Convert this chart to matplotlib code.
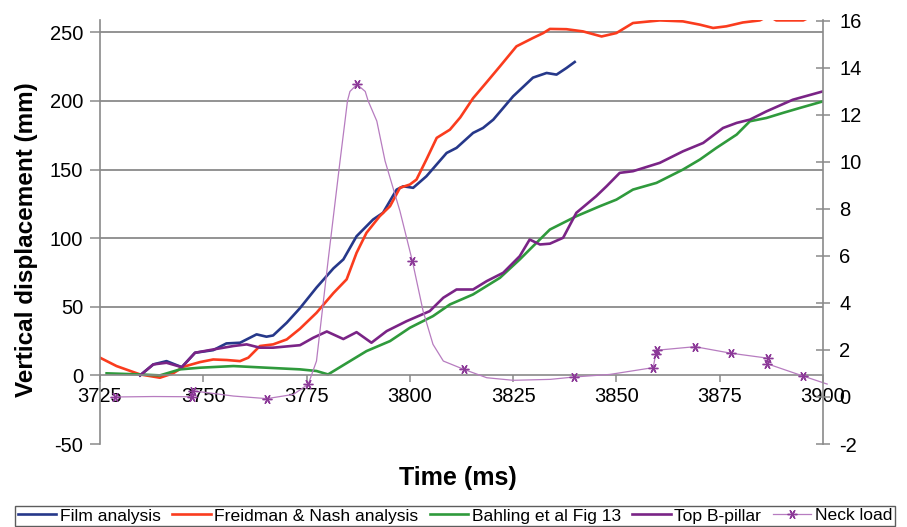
import matplotlib
matplotlib.use("Agg")
import matplotlib.pyplot as plt

plt.rcParams['font.family'] = ['Liberation Sans', 'DejaVu Sans']
plt.rcParams['axes.unicode_minus'] = False

# Film analysis (mm)
film_t = [3734.7, 3737.9, 3741.1, 3744.8, 3748.0, 3752.4, 3755.6, 3758.9, 3762.9, 3765.3,
          3766.9, 3770.2, 3773.4, 3777.4, 3781.5, 3783.9, 3787.1, 3791.1, 3793.5, 3796.8,
          3798.4, 3800.8, 3804.0, 3808.9, 3811.3, 3815.3, 3817.7, 3820.2, 3825.0, 3829.8,
          3833.1, 3835.5, 3837.9, 3839.9]
film_v = [0, 8, 10.4, 6, 16.5, 18.4, 23.3, 23.8, 29.9, 28.2,
          29.1, 38.4, 49, 64, 78, 84.5, 101.4, 113.6, 118.5, 135.4,
          137.8, 136.7, 145.1, 162.1, 165.8, 176.7, 180.3, 186.4, 203.4, 217,
          220.4, 219.2, 224, 228.4]

# Freidman & Nash analysis (mm)
fn_t = [3725.0, 3729.0, 3734.7, 3739.5, 3742.7, 3745.2, 3749.2, 3752.4, 3755.7, 3758.9,
        3760.9, 3763.7, 3766.9, 3770.2, 3773.4, 3777.4, 3781.5, 3784.7, 3787.1, 3789.5,
        3792.7, 3795.2, 3797.6, 3800.0, 3801.6, 3804.0, 3806.5, 3809.7, 3812.2, 3815.3,
        3818.6, 3821.8, 3825.8, 3829.8, 3832.3, 3833.9, 3837.9, 3841.9, 3846.4, 3850.0,
        3854.0, 3860.5, 3866.1, 3870.2, 3873.4, 3876.6, 3880.6, 3884.7, 3886.8, 3888.7,
        3895.2, 3897.5, 3900.0]
fn_v = [12.9, 6.8, 0.7, -1.7, 1.5, 6.3, 9.7, 11.6, 11.2, 10.4,
        12.9, 21.4, 22.6, 26.2, 34, 45.6, 60, 70, 89.3, 103.9,
        116, 123.3, 136.7, 139.1, 142.7, 157.3, 173.1, 179.1, 188, 202,
        213.7, 225.2, 239.8, 245.9, 249.5, 252.5, 252.3, 250.7, 247, 249.5,
        256.8, 258.7, 258, 255.6, 253.2, 254.4, 257.2, 258.7, 262, 258.7,
        258.7, 262, 263]

# Bahling et al Fig 13 (mm)
bahling_t = [3726.6, 3734.7, 3739.5, 3744.4, 3749.2, 3757.3, 3765.3, 3773.4, 3777.4, 3780.2,
             3785.5, 3789.5, 3795.2, 3800.0, 3805.6, 3809.7, 3815.3, 3821.8, 3826.6, 3829.8,
             3833.9, 3840.3, 3846.0, 3850.0, 3854.0, 3859.7, 3866.1, 3870.2, 3874.2, 3879.1,
             3882.3, 3886.3, 3890.3, 3894.4, 3900.0]
bahling_v = [1.5, 0.7, 0, 4.4, 5.6, 6.8, 5.6, 4.4, 3.2, 0.7,
             10.4, 17.7, 25, 34.7, 43.2, 51.7, 59, 71.1, 84.5, 94.1,
             106.3, 116, 123.3, 128.1, 135.4, 140.3, 150, 157.3, 165.8, 175.5,
             185.2, 187.6, 191.3, 194.9, 199.7]

# Top B-pillar (mm)
pillar_t = [3734.7, 3737.9, 3741.1, 3744.8, 3748.0, 3752.4, 3757.3, 3760.5, 3763.7, 3766.9,
            3773.4, 3776.6, 3779.9, 3783.9, 3787.1, 3790.7, 3794.4, 3799.2, 3804.8, 3808.1,
            3811.3, 3815.3, 3818.6, 3822.6, 3826.6, 3829.0, 3831.5, 3833.9, 3837.1, 3840.3,
            3845.1, 3847.6, 3850.8, 3854.0, 3860.5, 3866.1, 3871.0, 3875.8, 3879.1, 3882.3,
            3886.3, 3892.7, 3900.0]
pillar_v = [0, 8, 9.2, 6, 16.5, 18.9, 21.4, 22.6, 20.2, 20.2,
            22, 27.4, 32, 26.5, 31.5, 23.8, 32.3, 39.5, 46.8, 56.6,
            62.6, 62.6, 68.7, 74.8, 86.9, 99, 95.4, 96, 100.3, 118.5,
            130.6, 137.8, 147.6, 148.8, 154.9, 163.3, 169.4, 180.3, 184, 186.4,
            192.4, 200.9, 207]

# Neck load (right axis); marked = sample shown with a marker
neck_t = [3728.6, 3738.0, 3747.2, 3747.6, 3757.3, 3765.4, 3771.8, 3775.4, 3777.4, 3780.2,
          3783.1, 3784.3, 3784.9, 3785.5, 3787.2, 3789.2, 3789.9, 3792.0, 3794.0, 3797.6,
          3800.6, 3803.2, 3805.6, 3808.1, 3813.0, 3818.6, 3825.0, 3834.0, 3839.7, 3848.4,
          3858.9, 3859.5, 3859.8, 3869.0, 3877.8, 3886.7, 3886.4, 3895.2, 3901.0]
neck_v = [0.0, 0.02, 0.01, 0.26, 0.04, -0.07, 0.11, 0.54, 1.53, 5.79,
          10.04, 11.74, 12.6, 13.0, 13.3, 13.0, 12.6, 11.74, 10.04, 7.91,
          5.79, 3.66, 2.24, 1.53, 1.18, 0.82, 0.71, 0.75, 0.85, 0.96,
          1.25, 1.82, 1.99, 2.14, 1.86, 1.65, 1.42, 0.89, 0.55]
neck_marked = [True, False, True, True, False, True, False, True, False, False,
               False, False, False, False, True, False, False, False, False, False,
               True, False, False, False, True, False, False, False, True, False,
               True, True, True, True, True, True, True, True, False]

x_ticks = [3725, 3750, 3775, 3800, 3825, 3850, 3875, 3900]
left_ticks = [-50, 0, 50, 100, 150, 200, 250]
right_ticks = [-2, 0, 2, 4, 6, 8, 10, 12, 14, 16]

axis_grey = '#8a8a8a'

fig = plt.figure(figsize=(9.07, 5.27), dpi=100)
ax = fig.add_axes([100 / 907, 1 - 444 / 527, 723 / 907, 424 / 527])
ax2 = ax.twinx()

# horizontal gridlines (not at the bottom tick)
for lev in left_ticks[2:]:
    ax.axhline(lev, color=axis_grey, lw=1.3, zorder=0)

ax.plot(film_t, film_v, color='#26388a', lw=1.9, label='Film analysis')
ax.plot(fn_t, fn_v, color='#fa3c1e', lw=1.9, label='Freidman & Nash analysis')
ax.plot(bahling_t, bahling_v, color='#2f9a3c', lw=1.9, label='Bahling et al Fig 13')
ax.plot(pillar_t, pillar_v, color='#7a2486', lw=1.9, label='Top B-pillar')
ax2.plot(neck_t, neck_v, color='#b77cc0', lw=0.9, marker=(6, 2, 90), markersize=7,
         markeredgecolor='#8c3a98', markeredgewidth=1.0, markevery=neck_marked,
         clip_on=False, label='Neck load')

ax.set_xlim(3725, 3900)
ax.set_ylim(-50, 259)
ax2.set_ylim(-2, 16.04)

ax.set_xticks(x_ticks)
ax.set_yticks(left_ticks)
ax2.set_yticks(right_ticks)

ax.spines['top'].set_visible(False)
ax.spines['right'].set_visible(False)
ax.spines['bottom'].set_position(('data', 0))
ax.spines['bottom'].set_color(axis_grey)
ax.spines['left'].set_color(axis_grey)
for s in ['top', 'left', 'bottom']:
    ax2.spines[s].set_visible(False)
ax2.spines['right'].set_color(axis_grey)
for s in ax.spines.values():
    s.set_linewidth(1.2)
ax2.spines['right'].set_linewidth(1.2)

ax.tick_params(axis='x', direction='out', length=5, width=1.1, color=axis_grey,
               labelsize=14.5, pad=3)
ax.tick_params(axis='y', direction='out', length=7, width=1.1, color=axis_grey,
               labelsize=14.5, pad=5)
ax2.tick_params(axis='y', direction='inout', length=9.5, width=1.1, color=axis_grey,
                labelsize=14.5, pad=7)

fig.text(27 / 907, 1 - 240 / 527, 'Vertical displacement (mm)', rotation=90,
         ha='center', va='center', fontsize=17.5, fontweight='bold')
fig.text(458 / 907, 1 - 478 / 527, 'Time (ms)', ha='center', va='center',
         fontsize=18, fontweight='bold')

h1, l1 = ax.get_legend_handles_labels()
h2, l2 = ax2.get_legend_handles_labels()
leg = fig.legend(h1 + h2, l1 + l2, loc='lower center', bbox_to_anchor=(455 / 907, 0.0),
                 ncol=5, fontsize=12.6, frameon=True, fancybox=False, borderaxespad=0.05,
                 handlelength=2.2, handletextpad=0.2, columnspacing=0.65, borderpad=0.15)
leg.get_frame().set_edgecolor('#333333')
leg.get_frame().set_linewidth(1.0)

fig.savefig('out.png', dpi=100)
plt.close()
